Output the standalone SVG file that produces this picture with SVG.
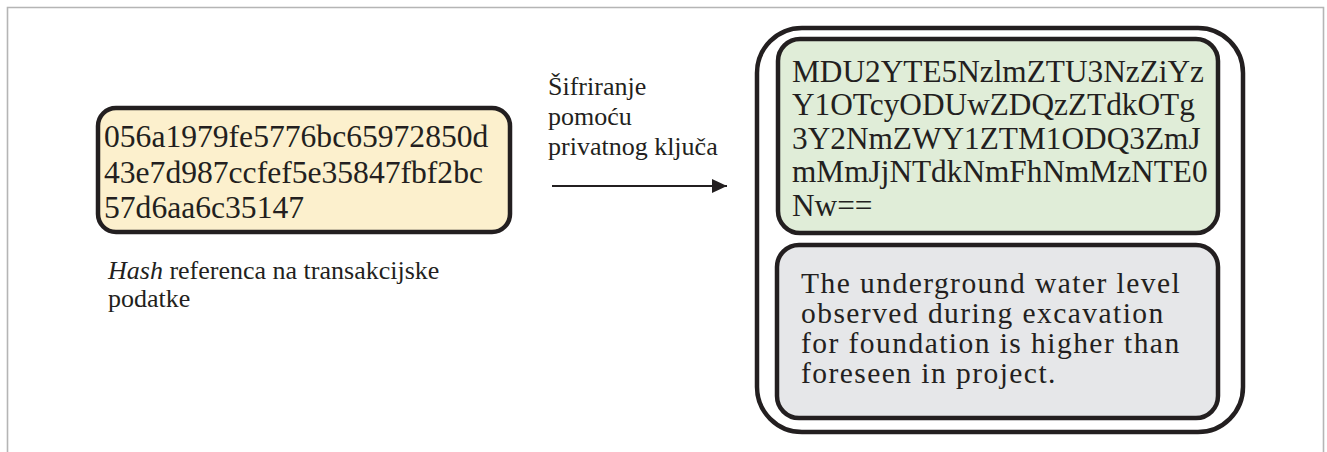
<svg xmlns="http://www.w3.org/2000/svg" width="1327" height="452" viewBox="0 0 1327 452">
<style>
.frame{fill:none;stroke:#b5b5b5;stroke-width:1.6}
.box{stroke:#231f20;stroke-width:4.5}
.t{font-family:"Liberation Serif","Times New Roman",serif;fill:#231f20}
.hash{font-size:31.6px}
.enc{font-size:31.3px}
.msg{font-size:29.5px;letter-spacing:1.45px}
.lbl{font-size:26px}
.conn{stroke:#231f20;stroke-width:1.8;fill:none}
</style>
<defs>
<marker id="ah" markerWidth="16" markerHeight="14" refX="15" refY="7" orient="auto" markerUnits="userSpaceOnUse">
<path d="M0,0 L15,7 L0,14 Z" fill="#231f20"/>
</marker>
</defs>
<rect width="1327" height="452" fill="#ffffff"/>
<path class="frame" d="M7.5,452 V7.5 H1323.5 V452"/>

<g id="hash-node">
<rect class="box" x="98" y="108" width="412" height="124" rx="18" fill="#fcf0cd"/>
<text class="t hash" x="104" y="147">056a1979fe5776bc65972850d</text>
<text class="t hash" x="104" y="183">43e7d987ccfef5e35847fbf2bc</text>
<text class="t hash" x="104" y="218">57d6aa6c35147</text>
</g>

<g id="hash-caption">
<text class="t lbl" x="108" y="279"><tspan font-style="italic">Hash</tspan> referenca na transakcijske</text>
<text class="t lbl" x="108" y="307">podatke</text>
</g>

<g id="signed-record">
<rect class="box" x="757" y="28" width="486" height="404" rx="45" fill="#ffffff"/>
</g>

<g id="encrypted-node">
<rect class="box" x="778" y="39" width="440" height="194" rx="22" fill="#e0edd8"/>
<text class="t enc" x="792" y="82">MDU2YTE5NzlmZTU3NzZiYz</text>
<text class="t enc" x="792" y="115">Y1OTcyODUwZDQzZTdkOTg</text>
<text class="t enc" x="792" y="149">3Y2NmZWY1ZTM1ODQ3ZmJ</text>
<text class="t enc" x="792" y="182">mMmJjNTdkNmFhNmMzNTE0</text>
<text class="t enc" x="792" y="216">Nw==</text>
</g>

<g id="message-node">
<rect class="box" x="777" y="245" width="441" height="173" rx="22" fill="#e6e7e9"/>
<text class="t msg" x="801" y="293">The underground water level</text>
<text class="t msg" x="801" y="323">observed during excavation</text>
<text class="t msg" x="801" y="353">for foundation is higher than</text>
<text class="t msg" x="801" y="383">foreseen in project.</text>
</g>

<g id="connectors">
<line class="conn" x1="552" y1="186" x2="727" y2="186" marker-end="url(#ah)"/>
<text class="t lbl" x="548" y="95">Šifriranje</text>
<text class="t lbl" x="548" y="125">pomoću</text>
<text class="t lbl" x="548" y="155">privatnog ključa</text>
</g>
</svg>
